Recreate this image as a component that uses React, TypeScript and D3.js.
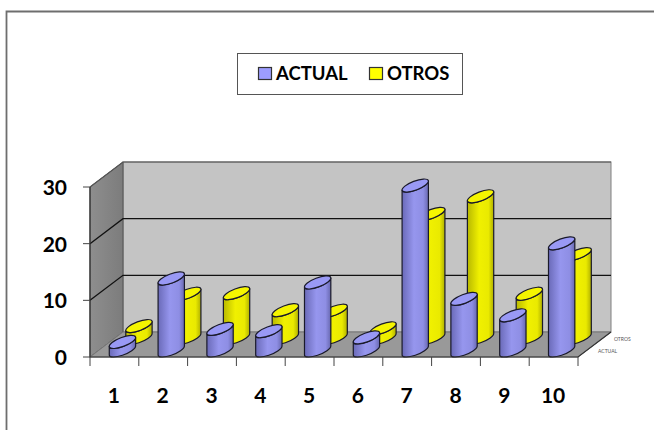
import React from "react";
import * as d3 from "d3";

const categories = ["1", "2", "3", "4", "5", "6", "7", "8", "9", "10"];
const actual = [1.5, 12.7, 3.8, 3.4, 12.0, 2.3, 29.1, 9.1, 6.2, 18.9];
const otros = [2.1, 7.8, 7.9, 4.9, 4.8, 1.7, 21.9, 25.0, 7.8, 14.8];
const yTicks = [0, 10, 20, 30];
const seriesNames = ["ACTUAL", "OTROS"];

const W = 654, H = 430;
const FRONT = { x0: 90, x1: 578, y0: 357, y1: 187 };
const DX = 33, DY = 25;
const font = "Lato, sans-serif";

const x = d3.scaleBand<string>().domain(categories).range([FRONT.x0, FRONT.x1]);
const y = d3.scaleLinear().domain([0, 30]).range([FRONT.y0, FRONT.y1]);
const depth = d3.scaleBand<string>().domain(seriesNames).range([0, 1]);

const a = 14, b = 4.5, phi = (-21 * Math.PI) / 180;
const halfW = Math.sqrt(a * a * Math.cos(phi) ** 2 + b * b * Math.sin(phi) ** 2);
const halfH = Math.sqrt(a * a * Math.sin(phi) ** 2 + b * b * Math.cos(phi) ** 2);
const tan = ((a * a - b * b) * Math.abs(Math.sin(phi)) * Math.cos(phi)) / halfW;

function Cylinder({ cat, v, s, fill, grad }: { cat: string; v: number; s: string; fill: string; grad: string }) {
  const d = depth(s)! + depth.bandwidth() / 2;
  const cx = x(cat)! + x.bandwidth() * 0.665 + d * DX - DX / 4;
  const dy = (d - 0.25) * DY;
  const baseC = y(0) - halfH - dy;
  const topC = y(v) - halfH - dy;
  const arc = (sweep: number, ex: number, ey: number) =>
    `A${a},${b} -21 0 ${sweep} ${ex},${ey}`;
  const body =
    `M${cx - halfW},${topC + tan}L${cx - halfW},${baseC + tan}` +
    arc(0, cx + halfW, baseC - tan) +
    `L${cx + halfW},${topC - tan}` +
    arc(1, cx - halfW, topC + tan) + "Z";
  return (
    <g stroke="#1a1a2a" strokeWidth={1.2} strokeLinejoin="round">
      <path d={body} fill={grad} />
      <ellipse cx={cx} cy={topC} rx={a} ry={b} transform={`rotate(-21 ${cx} ${topC})`} fill={fill} />
    </g>
  );
}

export default function App() {
  const bf = { x: FRONT.x0 + DX, r: FRONT.x1 + DX, y: FRONT.y0 - DY };
  return (
    <svg width={W} height={H} style={{ position: "absolute", left: 0, top: 0 }} fontFamily={font}>
      <defs>
        <linearGradient id="gBlue" x1="0" x2="1" y1="0" y2="0">
          <stop offset="0" stopColor="#6a6ab8" />
          <stop offset="0.45" stopColor="#9696ee" />
          <stop offset="0.8" stopColor="#8e8ee4" />
          <stop offset="1" stopColor="#6868b0" />
        </linearGradient>
        <linearGradient id="gYellow" x1="0" x2="1" y1="0" y2="0">
          <stop offset="0" stopColor="#b8b800" />
          <stop offset="0.45" stopColor="#f0f000" />
          <stop offset="0.8" stopColor="#eaea00" />
          <stop offset="1" stopColor="#b0b000" />
        </linearGradient>
        <linearGradient id="gWall" x1="0" x2="1" y1="0" y2="0">
          <stop offset="0" stopColor="#8e8e8e" />
          <stop offset="1" stopColor="#7c7c7c" />
        </linearGradient>
      </defs>
      <rect width={W} height={H} fill="#fff" />
      <path d={`M6.5,${H}V11.5H${W}`} fill="none" stroke="#6e6e6e" strokeWidth={1.8} />

      <rect x={bf.x} y={FRONT.y1 - DY} width={FRONT.x1 - FRONT.x0} height={FRONT.y0 - FRONT.y1} fill="#c4c4c4" stroke="#808080" />
      <path d={`M${FRONT.x0},${FRONT.y0}V${FRONT.y1}L${bf.x},${FRONT.y1 - DY}V${bf.y}Z`} fill="url(#gWall)" stroke="#555" />
      <path d={`M${FRONT.x0},${FRONT.y0}L${bf.x},${bf.y}H${bf.r}L${FRONT.x1},${FRONT.y0}Z`} fill="#999" stroke="#777" />
      <path d={`M${FRONT.x0},${FRONT.y1}L${bf.x},${FRONT.y1 - DY}H${bf.r}`} fill="none" stroke="#555" strokeWidth={1.2} />
      {yTicks.slice(1, 3).map((t) => (
        <path key={t} d={`M${FRONT.x0},${y(t)}L${bf.x},${y(t) - DY}H${bf.r}`} fill="none" stroke="#111" strokeWidth={1.3} />
      ))}

      {categories.map((c, i) => (
        <Cylinder key={c} cat={c} v={otros[i]} s="OTROS" fill="#f5f500" grad="url(#gYellow)" />
      )).flatMap((o, i) => [
        o,
        <Cylinder key={"a" + i} cat={categories[i]} v={actual[i]} s="ACTUAL" fill="#9999f5" grad="url(#gBlue)" />,
      ])}

      <path d={`M${FRONT.x0},${FRONT.y1}V${FRONT.y0}H${FRONT.x1}L${FRONT.x1 + DX},${FRONT.y0 - DY}`} fill="none" stroke="#333" strokeWidth={1.2} />
      {yTicks.map((t) => (
        <g key={t}>
          <line x1={83} x2={FRONT.x0} y1={y(t)} y2={y(t)} stroke="#444" />
          <text x={67} y={y(t) + 8} textAnchor="end" fontSize={21} fontWeight={700} fill="#000">{t}</text>
        </g>
      ))}
      {[...categories, ""].map((c, i) => {
        const px = FRONT.x0 + (i * (FRONT.x1 - FRONT.x0)) / categories.length;
        return <line key={i} x1={px} x2={px} y1={FRONT.y0} y2={366} stroke="#444" />;
      })}
      {categories.map((c) => (
        <text key={c} x={x(c)! + x.bandwidth() / 2 - 0.5} y={403} textAnchor="middle" fontSize={21} fontWeight={700} fill="#000">{c}</text>
      ))}
      <text x={614} y={341} fontSize={5} fill="#555">OTROS</text>
      <text x={598} y={353} fontSize={5} fill="#555">ACTUAL</text>

      <rect x={237.5} y={53.5} width={225} height={41} fill="#fff" stroke="#555" />
      <rect x={258.5} y={67.5} width={13} height={12} fill="#9d9dff" stroke="#333" strokeWidth={1.2} />
      <text x={276} y={80} fontSize={18.5} fontWeight={700} fill="#000">ACTUAL</text>
      <rect x={369.5} y={67.5} width={13} height={12} fill="#ffff00" stroke="#333" strokeWidth={1.2} />
      <text x={387} y={80} fontSize={18.5} fontWeight={700} fill="#000">OTROS</text>
    </svg>
  );
}
